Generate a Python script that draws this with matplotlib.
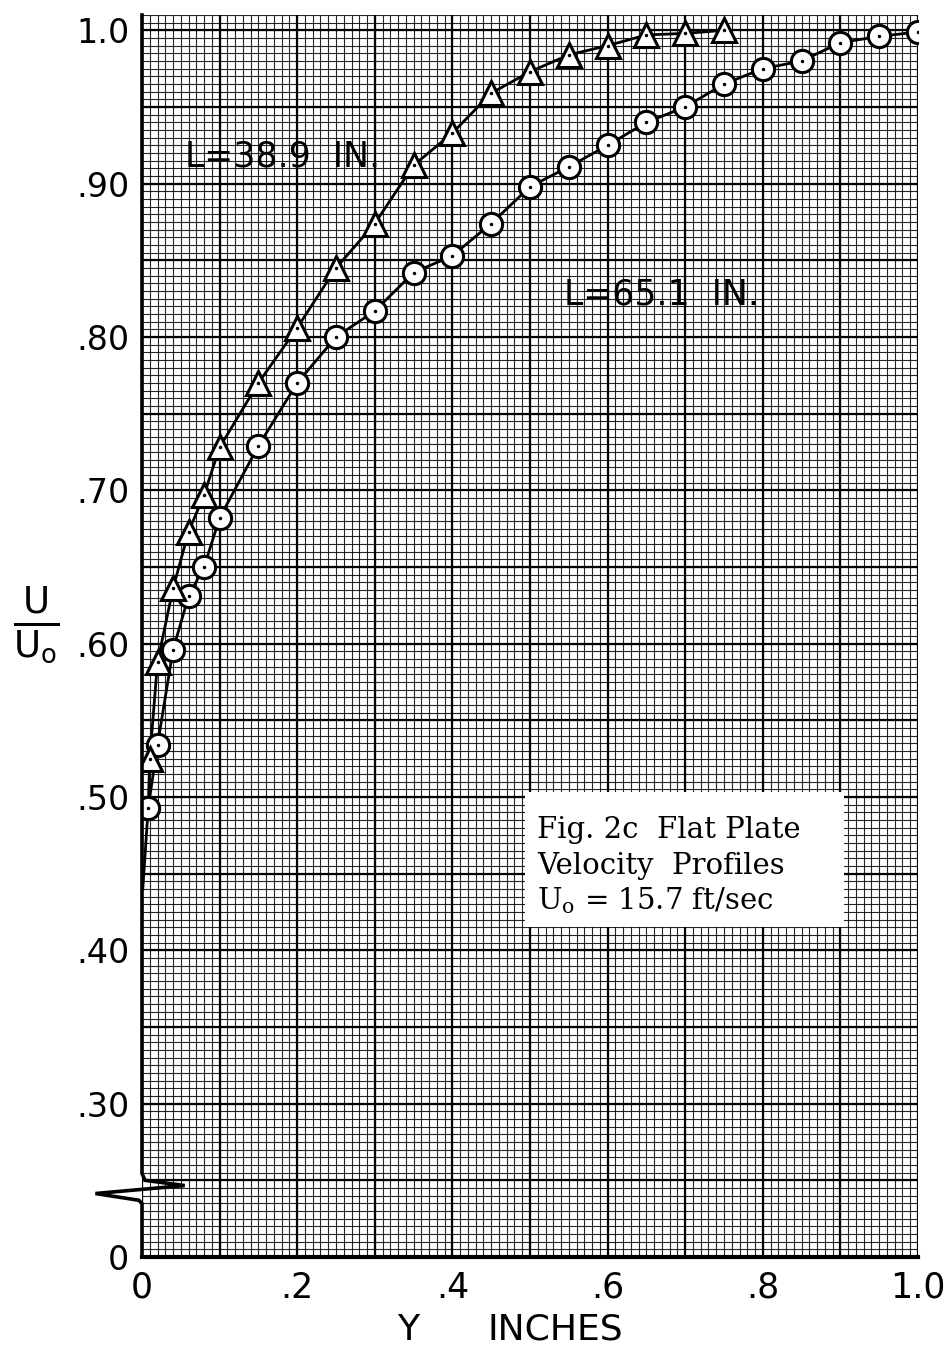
"""
Flat plate boundary layer velocity profiles, U/Uo against distance from wall,
drawn on graph-paper style grid.
"""

import numpy as np
import matplotlib
matplotlib.use('Agg')
import matplotlib.pyplot as plt
from matplotlib.patches import Rectangle

# L = 38.9 in. station (triangles)
y_tri = [0.01, 0.02, 0.04, 0.06, 0.08, 0.10, 0.15, 0.20, 0.25, 0.30,
         0.35, 0.40, 0.45, 0.50, 0.55, 0.60, 0.65, 0.70, 0.75]
u_tri = [0.525, 0.588, 0.636, 0.673, 0.697, 0.728, 0.770, 0.806, 0.845, 0.874,
         0.912, 0.933, 0.959, 0.973, 0.984, 0.990, 0.997, 0.998, 1.000]

# L = 65.1 in. station (circles)
y_cir = [0.008, 0.02, 0.04, 0.06, 0.08, 0.10, 0.15, 0.20, 0.25, 0.30,
         0.35, 0.40, 0.45, 0.50, 0.55, 0.60, 0.65, 0.70, 0.75, 0.80,
         0.85, 0.90, 0.95, 1.00]
u_cir = [0.493, 0.534, 0.596, 0.631, 0.650, 0.682, 0.729, 0.770, 0.800, 0.817,
         0.842, 0.853, 0.874, 0.898, 0.911, 0.925, 0.940, 0.950, 0.965, 0.975,
         0.980, 0.992, 0.996, 0.999]

# faired curve continued down toward the wall
wall_y = [0.001]
wall_u = [0.44]

x_ticks = [0.0, 0.2, 0.4, 0.6, 0.8, 1.0]
x_labels = ['0', '.2', '.4', '.6', '.8', '1.0']
u_ticks = [0.20, 0.30, 0.40, 0.50, 0.60, 0.70, 0.80, 0.90, 1.00]
u_labels = ['0', '.30', '.40', '.50', '.60', '.70', '.80', '.90', '1.0']

U_MIN, U_MAX = 0.20, 1.01

fig = plt.figure(figsize=(9.48, 13.51), dpi=100)
ax = fig.add_axes([142 / 948, 94 / 1351, 776 / 948, 1242 / 1351])
ax.set_xlim(0, 1.0)
ax.set_ylim(U_MIN, U_MAX)

# graph paper: fine rulings every 0.01 / 0.005, heavy every 0.1 / 0.05
fine_x = np.arange(0, 1.0001, 0.01)
fine_u = np.arange(U_MIN, U_MAX + 1e-6, 0.005)
heavy_x = np.arange(0, 1.0001, 0.1)
heavy_u = np.arange(U_MIN, 1.0001, 0.05)
ax.vlines(fine_x, U_MIN, U_MAX, color='k', lw=0.8, alpha=0.85, zorder=0)
ax.hlines(fine_u, 0, 1.0, color='k', lw=0.8, alpha=0.85, zorder=0)
ax.vlines(heavy_x, U_MIN, U_MAX, color='k', lw=1.6, zorder=1)
ax.hlines(heavy_u, 0, 1.0, color='k', lw=1.6, zorder=1)

# curves
ax.plot(wall_y + y_cir, wall_u + u_cir, color='k', lw=2, zorder=4)
ax.plot(y_cir[:1] + y_tri, u_cir[:1] + u_tri, color='k', lw=2, zorder=4)
ax.plot(y_cir, u_cir, 'o', ms=16, mfc='white', mec='k', mew=2.2, zorder=5)
ax.plot(y_tri, u_tri, '^', ms=17, mfc='white', mec='k', mew=2.2, zorder=5)
ax.plot(y_cir + y_tri, u_cir + u_tri, '.', ms=3, color='k', zorder=6)

ax.text(0.055, 0.918, 'L=38.9  IN.', fontsize=25, ha='left', va='center', zorder=3)
ax.text(0.544, 0.828, 'L=65.1  IN.', fontsize=25, ha='left', va='center', zorder=3)

# caption block
ax.add_patch(Rectangle((0.494, 0.415), 0.411, 0.088, fc='white', ec='none', zorder=3))
cap_font = dict(family='DejaVu Serif', fontsize=21, ha='left', va='baseline', zorder=4)
ax.text(0.509, 0.473, 'Fig. 2c  Flat Plate', **cap_font)
ax.text(0.509, 0.450, 'Velocity  Profiles', **cap_font)
ax.text(0.509, 0.427, r'U$_\mathregular{o}$ = 15.7 ft/sec', **cap_font)

# axes frame: bottom spine plus hand-drawn left spine with break symbol
for side in ['top', 'right', 'left']:
    ax.spines[side].set_visible(False)
ax.spines['bottom'].set_linewidth(3)
ax.spines['bottom'].set_zorder(7)
brk_x = [0, 0, 0.004, 0.055, -0.060, -0.004, 0, 0]
brk_u = [U_MAX, 0.2544, 0.2500, 0.2466, 0.2414, 0.2370, 0.2348, U_MIN]
ax.plot(brk_x, brk_u, color='k', lw=2.6, clip_on=False, zorder=8,
        solid_joinstyle='miter')

ax.set_xticks(x_ticks)
ax.set_xticklabels(x_labels)
ax.set_yticks(u_ticks)
ax.set_yticklabels(u_labels)
ax.tick_params(axis='y', length=0, labelsize=24, pad=9)
ax.tick_params(axis='x', length=0, labelsize=25, pad=10)

fig.text(408 / 948, 1 - 1330 / 1351, 'Y', fontsize=26, ha='center', va='center')
fig.text(555 / 948, 1 - 1330 / 1351, 'INCHES', fontsize=26, ha='center', va='center')
fig.text(36 / 948, 1 - 625 / 1351, r'$\frac{\mathsf{U}}{\mathsf{U_o}}$', fontsize=38,
         ha='center', va='center')

fig.savefig('out.png', dpi=100)
